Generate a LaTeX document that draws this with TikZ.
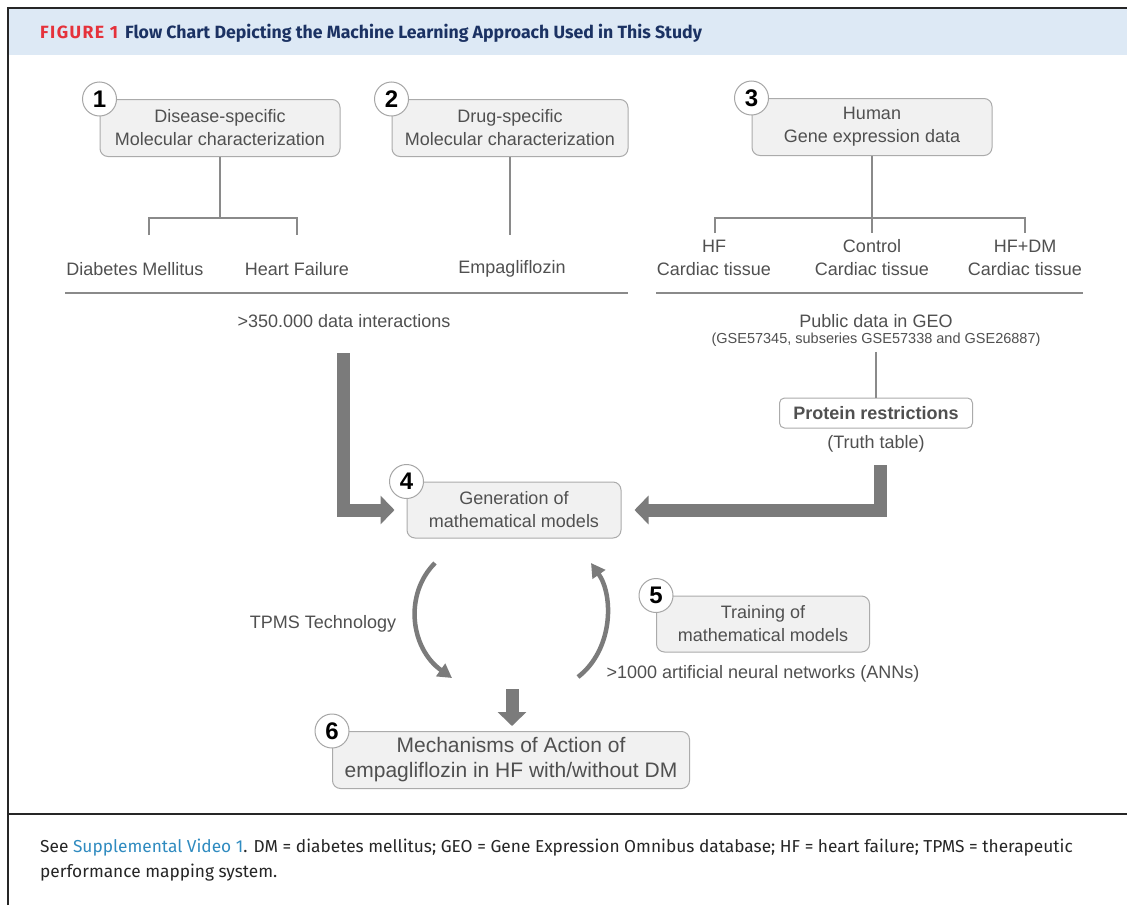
\documentclass[tikz,border=0pt]{standalone}
\usepackage{fontspec}
\setmainfont{Liberation Sans}
\newfontfamily\capfont{Fira Sans}
\usetikzlibrary{arrows.meta}
\definecolor{bandblue}{HTML}{DDE9F5}
\definecolor{figred}{HTML}{E5323B}
\definecolor{navy}{HTML}{1B3263}
\definecolor{linkblue}{HTML}{2F8BC0}
\definecolor{txtgray}{HTML}{505050}
\definecolor{boxfill}{HTML}{F1F1F1}
\definecolor{boxline}{HTML}{ABABAB}
\definecolor{arrgray}{HTML}{7B7B7B}
\definecolor{treegray}{HTML}{8A8A8A}

\begin{document}
\begin{tikzpicture}[x=1pt, y=-1pt,
    stepbox/.style={draw=boxline, fill=boxfill, rounded corners=8pt, line width=1pt, align=center,
        text=txtgray, font=\fontsize{18}{23}\selectfont, minimum height=57pt},
    numcirc/.style={draw=gray!70, fill=white, circle, line width=1pt, minimum size=34pt, inner sep=0pt,
        font=\fontsize{24}{24}\selectfont\bfseries},
    lbl/.style={align=center, text=txtgray, font=\fontsize{18}{23}\selectfont, inner sep=2pt},
    tree/.style={draw=treegray, line width=1.4pt},
    bigarrow/.style={draw=arrgray, line width=13pt, line join=miter, -{Triangle[width=28pt, length=14pt]}},
    bendarrow/.style={draw=arrgray, line width=4.5pt, -{Triangle[width=15pt, length=14pt]}}
]
    \useasboundingbox (0,0) rectangle (1127,905);
    \fill[white] (0,0) rectangle (1127,905);

    % frame and header band
    \fill[bandblue] (8,8) rectangle (1127,55);
    \draw[black!85, line width=2pt] (8,905) -- (8,8) -- (1127,8);
    \draw[black!85, line width=1.5pt] (8,814) -- (1127,814);
    \node[anchor=west, inner sep=0pt, font=\capfont\bfseries\fontsize{17.7}{20}\selectfont] (title) at (40,33)
        {\textcolor{figred}{\addfontfeature{LetterSpace=8}FIGURE 1}\hspace{7pt}%
         \textcolor{navy}{Flow Chart Depicting the Machine Learning Approach Used in This Study}};

    % steps
    \node[stepbox, minimum width=240pt] (b1) at (220,128) {Disease-specific\\Molecular characterization};
    \node[stepbox, minimum width=236pt] (b2) at (510,128) {Drug-specific\\Molecular characterization};
    \node[stepbox, minimum width=240pt] (b3) at (872,127) {Human\\Gene expression data};
    \node[stepbox, minimum width=214pt, minimum height=56pt] (b4) at (514,510) {Generation of\\mathematical models};
    \node[stepbox, minimum width=213pt, minimum height=56pt] (b5) at (763,624) {Training of\\mathematical models};
    \node[stepbox, minimum width=357pt, font=\fontsize{21}{25}\selectfont] (b6) at (511,760)
        {Mechanisms of Action of\\empagliflozin in HF with/without DM};

    \foreach \i in {1,...,6}
        \node[numcirc] (n\i) at (b\i.north west) {\i};

    % labels
    \node[lbl] (dm) at (135,269) {Diabetes Mellitus};
    \node[lbl] (hf) at (297,269) {Heart Failure};
    \node[lbl] (empa) at (512,269) {Empagliflozin};
    \node[lbl] (inter) at (344,321) {>350.000 data interactions};
    \node[lbl] (hft) at (714,258) {HF\\Cardiac tissue};
    \node[lbl] (ctl) at (872,258) {Control\\Cardiac tissue};
    \node[lbl] (hfdm) at (1025,258) {HF+DM\\Cardiac tissue};
    \node[lbl] (geo) at (876,321) {Public data in GEO};
    \node[lbl, font=\fontsize{14.5}{17}\selectfont] (geoids) at (876,340) {(GSE57345, subseries GSE57338 and GSE26887)};
    \node[draw=boxline, fill=white, rounded corners=5pt, line width=1pt, minimum width=193pt, minimum height=30pt,
        text=txtgray, font=\fontsize{18}{23}\selectfont\bfseries] (prot) at (876,413) {Protein restrictions};
    \node[lbl] (truth) at (876,444) {(Truth table)};
    \node[lbl] (tpms) at (323,624) {TPMS Technology};
    \node[lbl] (anns) at (763,674) {>1000 artificial neural networks (ANNs)};

    % trees
    \coordinate (j1) at (220,218);
    \coordinate (t1) at (149,235);
    \coordinate (t2) at (297,235);
    \draw[tree] (b1.south) -- (j1);
    \draw[tree] (t1) |- (j1) -| (t2);
    \draw[tree] (b2.south) -- (b2.south |- t1);

    \coordinate (j3) at (872,218);
    \coordinate (t4) at (715,233);
    \coordinate (t5) at (1025,233);
    \draw[tree] (b3.south) -- (b3.south |- t4);
    \draw[tree] (t4) |- (j3) -| (t5);

    \draw[tree] (65,293) -- (628,293);
    \draw[tree] (656,293) -- (1083,293);
    \draw[tree, shorten <=3pt] (geoids.south) -- (prot.north);

    % arrows
    \coordinate (a1) at (343,353);
    \coordinate (a2) at (880,465);
    \coordinate (a3) at (512,689);
    \draw[bigarrow, shorten >=12pt] (a1) |- (b4.west);
    \draw[bigarrow, shorten >=13pt] (a2) |- (b4.east);
    \draw[bigarrow, shorten >=5pt] (a3) -- (a3 |- b6.north);

    \coordinate (c1) at (435,563);
    \coordinate (c2) at (452,678);
    \coordinate (c3) at (578,677);
    \coordinate (c4) at (591,563);
    \draw[bendarrow] (c1) .. controls (404,594) and (410,648) .. (c2);
    \draw[bendarrow] (c3) .. controls (613,650) and (614,596) .. (c4);

    % caption
    \node[anchor=north west, align=left, inner sep=0pt, text=black!85,
        font=\capfont\fontsize{17.3}{25}\selectfont] (caption) at (40,839)
        {See \textcolor{linkblue}{Supplemental Video 1}. DM = diabetes mellitus; GEO = Gene Expression Omnibus database; HF = heart failure; TPMS = therapeutic\\
         performance mapping system.};
\end{tikzpicture}
\end{document}
